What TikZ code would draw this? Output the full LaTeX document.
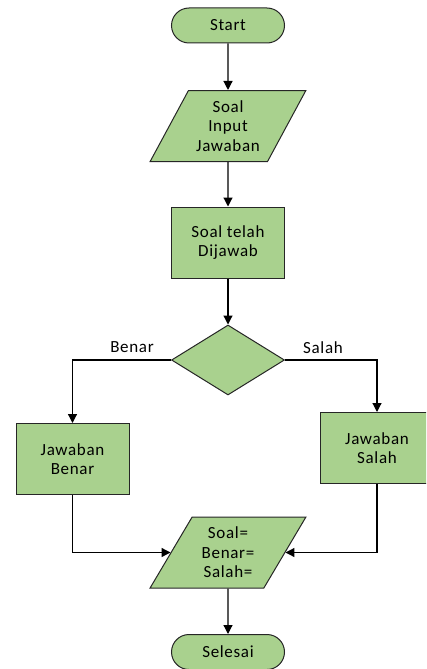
\documentclass[tikz,border=0pt]{standalone}
\usepackage{fontspec}
\setmainfont[LetterSpace=4]{Carlito}
\usetikzlibrary{shapes.geometric,arrows.meta}
\definecolor{boxfill}{HTML}{A9D18E}
\definecolor{boxline}{HTML}{262626}
\tikzset{
  base/.style={draw=boxline, line width=1pt, fill=boxfill, align=center, inner sep=0pt,
    font=\fontsize{17}{19.5}\selectfont, text=black},
  term/.style={base, rectangle, rounded corners=17.5pt, minimum width=113pt, minimum height=35pt},
  io/.style={base, trapezium, trapezium left angle=58.8, trapezium right angle=121.2,
    trapezium stretches=true, minimum width=156pt, minimum height=71pt},
  proc/.style={base, rectangle, minimum width=113pt, minimum height=71pt},
  dec/.style={base, diamond, minimum width=113pt, minimum height=70pt, aspect=1.6},
  arr/.style={draw=black, line width=1.2pt, -{Triangle[length=9pt,width=9pt]}},
  lbl/.style={font=\fontsize{17}{19.5}\selectfont, text=black, inner sep=0pt}
}
\begin{document}
\begin{tikzpicture}[x=1pt,y=-1pt]
\useasboundingbox (0,0) rectangle (426,669);
\begin{scope}
\clip (0,0) rectangle (426,669);
\node[term] (start) at (228,25.5) {Start};
\node[io] (inp) at (228,126) {Soal\\Input\\Jawaban};
\node[proc] (cek) at (228,242.5) {Soal telah\\Dijawab};
\node[dec] (dec) at (228,360) {};
\node[proc] (benar) at (72.5,459) {Jawaban\\Benar};
\node[proc] (salah) at (377,448) {Jawaban\\Salah};
\node[io] (out) at (228,552.5) {Soal=\\Benar=\\Salah=};
\node[term] (end) at (228,652) {Selesai};
\draw[arr] (start.south) -- (inp.north);
\draw[arr] (inp.south) -- (cek.north);
\draw[arr] (cek.south) -- (dec.north);
\draw[arr] (dec.west) -| (benar.north);
\draw[arr] (dec.east) -| (salah.north);
\draw[arr] (benar.south) |- (out.west);
\draw[arr] (salah.south) |- (out.east);
\draw[arr] (out.south) -- (end.north);
\node[lbl] (lb) at (132,347.5) {Benar};
\node[lbl] (ls) at (323,347.5) {Salah};
\end{scope}
\end{tikzpicture}
\end{document}
